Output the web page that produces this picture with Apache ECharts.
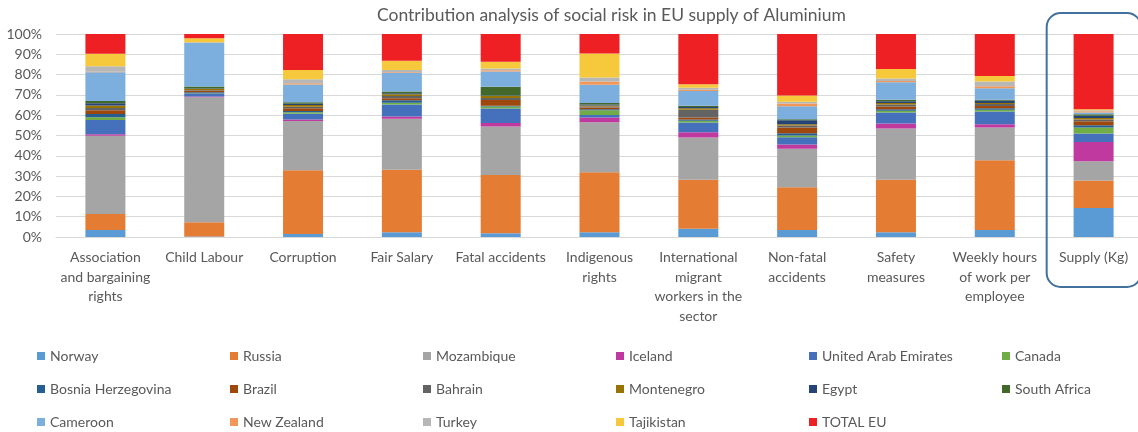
<!DOCTYPE html>
<html>
<head>
<meta charset="utf-8">
<script src="https://cdn.jsdelivr.net/npm/echarts@6/dist/echarts.min.js"></script>
<style>
html,body{margin:0;padding:0;background:#fff;}
#chart{width:1138px;height:432px;}
</style>
</head>
<body>
<div id="chart"></div>
<script>
// ---- Data (percent contribution) ----
var categories = ["Association\nand bargaining\nrights", "Child Labour", "Corruption", "Fair Salary", "Fatal accidents", "Indigenous\nrights", "International\nmigrant\nworkers in the\nsector", "Non-fatal\naccidents", "Safety\nmeasures", "Weekly hours\nof work per\nemployee", "Supply (Kg)"];
var yTicks = [0, 10, 20, 30, 40, 50, 60, 70, 80, 90, 100];

var norway      = [3.4, 0.2, 1.5, 2.3, 1.8, 2.3, 4.1, 3.4, 2.3, 3.4, 14.3];
var russia      = [7.9, 7.1, 31.2, 30.7, 28.7, 29.7, 24.0, 21.0, 25.8, 34.5, 13.5];
var mozambique  = [38.4, 61.7, 24.1, 25.1, 23.8, 24.8, 20.7, 18.9, 25.1, 16.1, 9.4];
var iceland     = [0.8, 0.3, 0.8, 1.1, 1.8, 2.3, 2.6, 2.1, 2.5, 1.6, 9.5];
var uae         = [7.0, 1.6, 2.8, 5.9, 7.1, 1.3, 4.8, 3.6, 5.4, 6.4, 4.1];
var canada      = [1.3, 0.2, 0.8, 0.8, 1.0, 2.3, 0.8, 0.8, 0.8, 0.8, 3.0];
var bosnia      = [1.6, 0.4, 0.6, 1.3, 0.3, 0.5, 0.6, 1.1, 0.8, 0.8, 1.1];
var brazil      = [1.8, 0.8, 1.3, 1.0, 2.8, 0.8, 1.0, 2.8, 1.3, 1.0, 2.0];
var bahrain     = [1.1, 0.3, 0.8, 1.1, 1.0, 0.5, 3.8, 1.0, 1.0, 1.0, 0.8];
var montenegro  = [1.3, 0.4, 0.8, 0.8, 1.0, 0.5, 0.8, 0.6, 0.8, 0.5, 0.8];
var egypt       = [1.1, 0.3, 0.6, 0.5, 0.3, 0.5, 0.6, 2.0, 0.8, 1.1, 1.0];
var southAfrica = [1.1, 1.0, 0.8, 0.8, 4.3, 0.8, 0.6, 0.5, 0.8, 0.5, 0.8];
var cameroon    = [14.1, 21.5, 8.6, 9.2, 7.5, 9.0, 7.2, 6.4, 8.5, 5.7, 0.8];
var newZealand  = [0.3, 0.0, 0.6, 0.3, 0.6, 1.6, 0.6, 1.3, 0.6, 1.0, 0.6];
var turkey      = [2.6, 0.3, 2.0, 1.1, 0.8, 2.0, 1.0, 0.8, 1.3, 2.3, 0.6];
var tajikistan  = [6.2, 2.0, 4.6, 4.6, 3.4, 11.8, 1.8, 3.1, 4.6, 2.8, 0.5];
var totalEU     = [9.7, 2.1, 17.6, 13.1, 13.6, 9.7, 24.6, 30.2, 17.2, 20.7, 36.9];

var seriesNames = ["Norway", "Russia", "Mozambique", "Iceland", "United Arab Emirates", "Canada",
  "Bosnia Herzegovina", "Brazil", "Bahrain", "Montenegro", "Egypt", "South Africa",
  "Cameroon", "New Zealand", "Turkey", "Tajikistan", "TOTAL EU"];
var seriesValues = [norway, russia, mozambique, iceland, uae, canada, bosnia, brazil, bahrain,
  montenegro, egypt, southAfrica, cameroon, newZealand, turkey, tajikistan, totalEU];
var colors = ["#5B9BD5", "#E57C34", "#A5A5A5", "#C0399F", "#4470BC", "#70AD47",
  "#255E91", "#9E480E", "#636363", "#997300", "#264478", "#43682B",
  "#7CAFDD", "#F1975A", "#B7B7B7", "#F6C83C", "#EE2024"];

// normalise each column to 100 % (100% stacked chart)
var totals = categories.map(function (c, i) {
  return seriesValues.reduce(function (s, arr) { return s + arr[i]; }, 0);
});
var FONT = "Lato, 'Open Sans', sans-serif";
var TXT = "#595959";

var series = seriesNames.map(function (name, k) {
  return {
    name: name,
    type: 'bar',
    stack: 'total',
    barWidth: 40,
    itemStyle: { color: colors[k] },
    emphasis: { disabled: true },
    data: seriesValues[k].map(function (v, i) { return v / totals[i] * 100; })
  };
});

// legends: 6 columns x 3 rows
var colX = [37, 230, 423, 616, 809, 1002];
var legends = colX.map(function (x, c) {
  var names = [];
  for (var r = 0; r < 3; r++) { var idx = r * 6 + c; if (idx < seriesNames.length) names.push(seriesNames[idx]); }
  return {
    orient: 'vertical', left: x, top: 349, height: 120, padding: 0,
    itemWidth: 8, itemHeight: 8, itemGap: 19,
    icon: 'rect', selectedMode: false,
    textStyle: { color: TXT, fontSize: 14, fontFamily: FONT, lineHeight: 14 },
    data: names
  };
});

var chart = echarts.init(document.getElementById('chart'), null, { renderer: 'canvas' });
chart.setOption({
  animation: false,
  textStyle: { fontFamily: FONT },
  title: {
    text: 'Contribution analysis of social risk in EU supply of Aluminium',
    left: 377, top: 6, padding: 0,
    textStyle: { color: TXT, fontSize: 17.5, fontWeight: 'normal', fontFamily: FONT }
  },
  legend: legends,
  grid: { left: 56, width: 1087, top: 34, height: 203, containLabel: false, outerBoundsMode: 'none' },
  xAxis: {
    type: 'category', data: categories,
    axisLine: { show: true, lineStyle: { color: '#D9D9D9', width: 1 } },
    axisTick: { show: false },
    axisLabel: { interval: 0, color: TXT, fontSize: 14, lineHeight: 19.5, margin: 11, fontFamily: FONT }
  },
  yAxis: {
    type: 'value', min: 0, max: 100, interval: 10,
    axisLine: { show: false }, axisTick: { show: false },
    splitLine: { lineStyle: { color: '#D9D9D9', width: 1 } },
    axisLabel: { color: TXT, fontSize: 14, margin: 14, fontFamily: FONT,
      formatter: function (v) { return yTicks.indexOf(v) >= 0 ? v + '%' : ''; } }
  },
  series: series
});

// rounded box around the "Supply (Kg)" category
var last = categories.length - 1;
var cx = chart.convertToPixel({ xAxisIndex: 0 }, last);
var cPrev = chart.convertToPixel({ xAxisIndex: 0 }, last - 1);
var band = cx - cPrev;
var boxLeft = cx - band / 2 + 2.5;
var topPx = chart.convertToPixel({ yAxisIndex: 0 }, 100);
var basePx = chart.convertToPixel({ yAxisIndex: 0 }, 0);
chart.setOption({
  graphic: [{
    type: 'rect', silent: true, z: 100,
    shape: { x: boxLeft, y: topPx - 21, width: 1141 - boxLeft, height: (basePx + 50) - (topPx - 21), r: 14 },
    style: { fill: 'none', stroke: '#41719C', lineWidth: 2 }
  }]
});
</script>
</body>
</html>
